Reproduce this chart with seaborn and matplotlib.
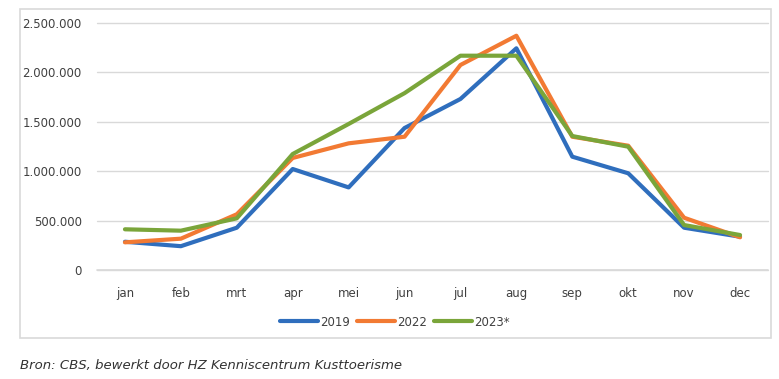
import pandas as pd
import matplotlib
matplotlib.use("Agg")
import matplotlib.pyplot as plt
import matplotlib.ticker as mticker
from matplotlib.patches import Rectangle
import seaborn as sns

months = ["jan", "feb", "mrt", "apr", "mei", "jun", "jul", "aug", "sep", "okt", "nov", "dec"]
v2019 = [286000, 241000, 428000, 1022000, 836000, 1437000, 1731000, 2244000, 1147000, 979000, 428000, 337000]
v2022 = [280000, 317000, 564000, 1134000, 1282000, 1349000, 2075000, 2371000, 1349000, 1258000, 529000, 331000]
v2023 = [412000, 398000, 523000, 1174000, 1478000, 1790000, 2169000, 2169000, 1356000, 1248000, 455000, 354000]
years = ["2019", "2022", "2023*"]
colors = ["#2F6EBD", "#F27A33", "#7AA53A"]

df = pd.DataFrame({
    "maand": months * 3,
    "waarde": v2019 + v2022 + v2023,
    "jaar": [y for y in years for _ in months],
})

sns.set_style("white")
plt.rcParams["font.family"] = ["DejaVu Sans"]

fig = plt.figure(figsize=(7.79, 3.79), dpi=100)
ax = fig.add_axes([97 / 779, 1 - 270 / 379, 671 / 779, 247 / 379])

sns.lineplot(data=df, x="maand", y="waarde", hue="jaar", palette=colors,
             linewidth=3, sort=False, ax=ax, legend=False)

ax.set_xlim(-0.5, 11.5)
ax.set_ylim(0, 2500000)
ax.set_yticks(range(0, 2500001, 500000))
ax.yaxis.set_major_formatter(mticker.FuncFormatter(lambda v, p: f"{int(v):,}".replace(",", ".")))
ax.grid(axis="y", color="#D9D9D9", linewidth=1, clip_on=False)
ax.axhline(0, color="#D9D9D9", linewidth=1.2, clip_on=False, zorder=0.5)
ax.set_axisbelow(True)
for s in ax.spines.values():
    s.set_visible(False)
ax.tick_params(axis="both", length=0, labelsize=8.5, colors="#404040")
ax.tick_params(axis="y", pad=11)
ax.tick_params(axis="x", pad=12)
ax.set_xlabel("")
ax.set_ylabel("")

handles = [plt.Line2D([], [], color=c, linewidth=3) for c in colors]
fig.legend(handles, years, loc="center", bbox_to_anchor=(395 / 779, 1 - 322 / 379),
           ncol=3, frameon=False, fontsize=8.5, handlelength=3.2, handletextpad=0.2,
           columnspacing=0.6, labelcolor="#404040")

fig.patches.append(Rectangle((20 / 779, 1 - 338 / 379), 751 / 779, 329 / 379,
                             transform=fig.transFigure, fill=False,
                             edgecolor="#D9D9D9", linewidth=1.2))

fig.text(20 / 779, 1 - 365 / 379, "Bron: CBS, bewerkt door HZ Kenniscentrum Kusttoerisme",
         fontsize=9.5, style="italic", color="#333333", va="center", ha="left")

plt.savefig("out.png", dpi=100)
